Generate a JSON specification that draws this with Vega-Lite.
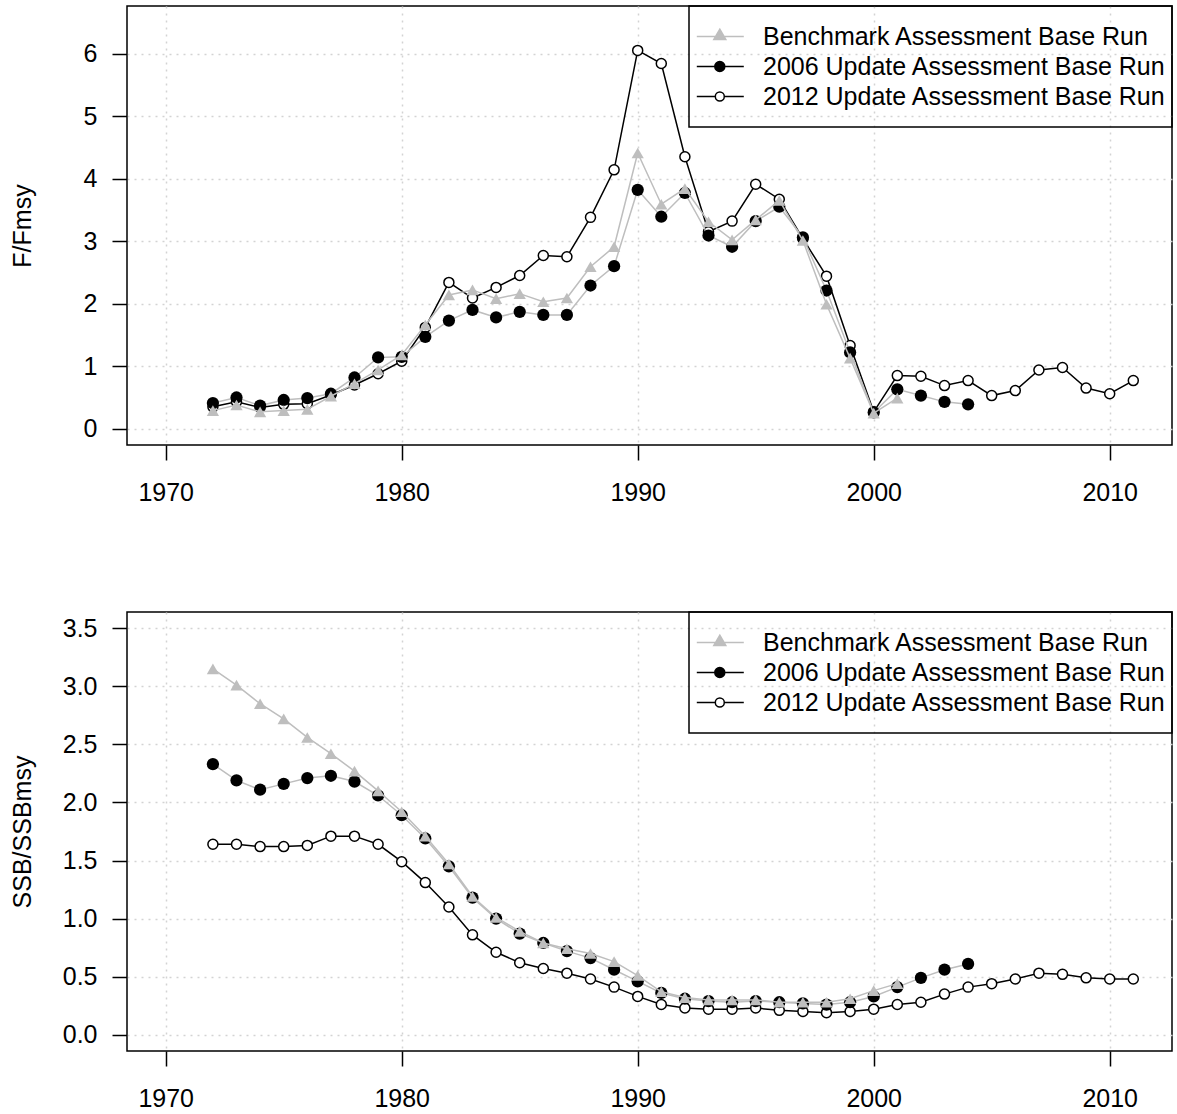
{
  "$schema": "https://vega.github.io/schema/vega-lite/v6.json",
  "background": "white",
  "padding": {"left": 9, "top": 4, "right": 5, "bottom": 5},
  "bounds": "flush",
  "spacing": 167,
  "config": {
    "font": "Liberation Sans",
    "view": {"stroke": "black", "strokeWidth": 1.5},
    "axis": {"domain": false, "grid": true, "gridColor": "#D3D3D3", "gridDash": [2, 5], "gridWidth": 1.5, "tickColor": "black", "tickSize": 15, "tickWidth": 1.5, "labelFont": "Liberation Sans", "labelFontSize": 25, "labelColor": "black", "titleFont": "Liberation Sans", "titleFontSize": 25, "titleFontWeight": "normal", "titleColor": "black", "labelOverlap": false, "labelFlush": false},
    "axisX": {"labelPadding": 20},
    "axisY": {"labelPadding": 15, "minExtent": 60, "maxExtent": 60, "titlePadding": 32},
    "legend": {"titleFontSize": 8, "titlePadding": 5, "orient": "top-right", "offset": 0, "padding": 5, "strokeColor": "black", "strokeWidth": 1.5, "symbolSize": 400, "symbolStrokeWidth": 1.5, "symbolOpacity": 1, "labelFontSize": 25, "labelFont": "Liberation Sans", "labelColor": "black", "labelOffset": 44, "labelLimit": 0, "rowPadding": 4}
  },
  "resolve": {"scale": {"shape": "independent", "fill": "independent", "stroke": "independent"}, "legend": {"shape": "independent", "fill": "independent", "stroke": "independent"}},
  "datasets": {
    "f": [
      {"year": 1972, "series": "bench", "value": 0.29}, {"year": 1973, "series": "bench", "value": 0.38}, {"year": 1974, "series": "bench", "value": 0.27}, {"year": 1975, "series": "bench", "value": 0.29}, {"year": 1976, "series": "bench", "value": 0.31}, {"year": 1977, "series": "bench", "value": 0.52}, {"year": 1978, "series": "bench", "value": 0.72}, {"year": 1979, "series": "bench", "value": 0.94}, {"year": 1980, "series": "bench", "value": 1.18}, {"year": 1981, "series": "bench", "value": 1.66},
      {"year": 1982, "series": "bench", "value": 2.14}, {"year": 1983, "series": "bench", "value": 2.22}, {"year": 1984, "series": "bench", "value": 2.08}, {"year": 1985, "series": "bench", "value": 2.16}, {"year": 1986, "series": "bench", "value": 2.03}, {"year": 1987, "series": "bench", "value": 2.09}, {"year": 1988, "series": "bench", "value": 2.59}, {"year": 1989, "series": "bench", "value": 2.91}, {"year": 1990, "series": "bench", "value": 4.41}, {"year": 1991, "series": "bench", "value": 3.59},
      {"year": 1992, "series": "bench", "value": 3.84}, {"year": 1993, "series": "bench", "value": 3.31}, {"year": 1994, "series": "bench", "value": 3.02}, {"year": 1995, "series": "bench", "value": 3.34}, {"year": 1996, "series": "bench", "value": 3.65}, {"year": 1997, "series": "bench", "value": 3.01}, {"year": 1998, "series": "bench", "value": 1.99}, {"year": 1999, "series": "bench", "value": 1.13}, {"year": 2000, "series": "bench", "value": 0.25}, {"year": 2001, "series": "bench", "value": 0.49},
      {"year": 1972, "series": "u2006", "value": 0.41}, {"year": 1973, "series": "u2006", "value": 0.50}, {"year": 1974, "series": "u2006", "value": 0.37}, {"year": 1975, "series": "u2006", "value": 0.46}, {"year": 1976, "series": "u2006", "value": 0.49}, {"year": 1977, "series": "u2006", "value": 0.56}, {"year": 1978, "series": "u2006", "value": 0.82}, {"year": 1979, "series": "u2006", "value": 1.14}, {"year": 1980, "series": "u2006", "value": 1.15}, {"year": 1981, "series": "u2006", "value": 1.47},
      {"year": 1982, "series": "u2006", "value": 1.73}, {"year": 1983, "series": "u2006", "value": 1.90}, {"year": 1984, "series": "u2006", "value": 1.78}, {"year": 1985, "series": "u2006", "value": 1.87}, {"year": 1986, "series": "u2006", "value": 1.82}, {"year": 1987, "series": "u2006", "value": 1.82}, {"year": 1988, "series": "u2006", "value": 2.29}, {"year": 1989, "series": "u2006", "value": 2.60}, {"year": 1990, "series": "u2006", "value": 3.82}, {"year": 1991, "series": "u2006", "value": 3.39},
      {"year": 1992, "series": "u2006", "value": 3.77}, {"year": 1993, "series": "u2006", "value": 3.09}, {"year": 1994, "series": "u2006", "value": 2.91}, {"year": 1995, "series": "u2006", "value": 3.32}, {"year": 1996, "series": "u2006", "value": 3.55}, {"year": 1997, "series": "u2006", "value": 3.06}, {"year": 1998, "series": "u2006", "value": 2.21}, {"year": 1999, "series": "u2006", "value": 1.22}, {"year": 2000, "series": "u2006", "value": 0.26}, {"year": 2001, "series": "u2006", "value": 0.63},
      {"year": 2002, "series": "u2006", "value": 0.53}, {"year": 2003, "series": "u2006", "value": 0.43}, {"year": 2004, "series": "u2006", "value": 0.39},
      {"year": 1972, "series": "u2012", "value": 0.35}, {"year": 1973, "series": "u2012", "value": 0.43}, {"year": 1974, "series": "u2012", "value": 0.34}, {"year": 1975, "series": "u2012", "value": 0.39}, {"year": 1976, "series": "u2012", "value": 0.40}, {"year": 1977, "series": "u2012", "value": 0.54}, {"year": 1978, "series": "u2012", "value": 0.70}, {"year": 1979, "series": "u2012", "value": 0.88}, {"year": 1980, "series": "u2012", "value": 1.08}, {"year": 1981, "series": "u2012", "value": 1.62},
      {"year": 1982, "series": "u2012", "value": 2.34}, {"year": 1983, "series": "u2012", "value": 2.09}, {"year": 1984, "series": "u2012", "value": 2.26}, {"year": 1985, "series": "u2012", "value": 2.45}, {"year": 1986, "series": "u2012", "value": 2.77}, {"year": 1987, "series": "u2012", "value": 2.75}, {"year": 1988, "series": "u2012", "value": 3.38}, {"year": 1989, "series": "u2012", "value": 4.14}, {"year": 1990, "series": "u2012", "value": 6.05}, {"year": 1991, "series": "u2012", "value": 5.84},
      {"year": 1992, "series": "u2012", "value": 4.35}, {"year": 1993, "series": "u2012", "value": 3.15}, {"year": 1994, "series": "u2012", "value": 3.32}, {"year": 1995, "series": "u2012", "value": 3.91}, {"year": 1996, "series": "u2012", "value": 3.67}, {"year": 1997, "series": "u2012", "value": 3.04}, {"year": 1998, "series": "u2012", "value": 2.44}, {"year": 1999, "series": "u2012", "value": 1.33}, {"year": 2000, "series": "u2012", "value": 0.27}, {"year": 2001, "series": "u2012", "value": 0.85},
      {"year": 2002, "series": "u2012", "value": 0.84}, {"year": 2003, "series": "u2012", "value": 0.69}, {"year": 2004, "series": "u2012", "value": 0.77}, {"year": 2005, "series": "u2012", "value": 0.53}, {"year": 2006, "series": "u2012", "value": 0.61}, {"year": 2007, "series": "u2012", "value": 0.94}, {"year": 2008, "series": "u2012", "value": 0.98}, {"year": 2009, "series": "u2012", "value": 0.65}, {"year": 2010, "series": "u2012", "value": 0.56}, {"year": 2011, "series": "u2012", "value": 0.77}
    ],
    "ssb": [
      {"year": 1972, "series": "bench", "value": 3.15}, {"year": 1973, "series": "bench", "value": 3.01}, {"year": 1974, "series": "bench", "value": 2.85}, {"year": 1975, "series": "bench", "value": 2.72}, {"year": 1976, "series": "bench", "value": 2.56}, {"year": 1977, "series": "bench", "value": 2.42}, {"year": 1978, "series": "bench", "value": 2.27}, {"year": 1979, "series": "bench", "value": 2.10}, {"year": 1980, "series": "bench", "value": 1.92}, {"year": 1981, "series": "bench", "value": 1.71},
      {"year": 1982, "series": "bench", "value": 1.47}, {"year": 1983, "series": "bench", "value": 1.19}, {"year": 1984, "series": "bench", "value": 1.01}, {"year": 1985, "series": "bench", "value": 0.89}, {"year": 1986, "series": "bench", "value": 0.79}, {"year": 1987, "series": "bench", "value": 0.74}, {"year": 1988, "series": "bench", "value": 0.70}, {"year": 1989, "series": "bench", "value": 0.63}, {"year": 1990, "series": "bench", "value": 0.51}, {"year": 1991, "series": "bench", "value": 0.37},
      {"year": 1992, "series": "bench", "value": 0.32}, {"year": 1993, "series": "bench", "value": 0.30}, {"year": 1994, "series": "bench", "value": 0.30}, {"year": 1995, "series": "bench", "value": 0.30}, {"year": 1996, "series": "bench", "value": 0.28}, {"year": 1997, "series": "bench", "value": 0.28}, {"year": 1998, "series": "bench", "value": 0.28}, {"year": 1999, "series": "bench", "value": 0.31}, {"year": 2000, "series": "bench", "value": 0.38}, {"year": 2001, "series": "bench", "value": 0.44},
      {"year": 1972, "series": "u2006", "value": 2.33}, {"year": 1973, "series": "u2006", "value": 2.19}, {"year": 1974, "series": "u2006", "value": 2.11}, {"year": 1975, "series": "u2006", "value": 2.16}, {"year": 1976, "series": "u2006", "value": 2.21}, {"year": 1977, "series": "u2006", "value": 2.23}, {"year": 1978, "series": "u2006", "value": 2.18}, {"year": 1979, "series": "u2006", "value": 2.06}, {"year": 1980, "series": "u2006", "value": 1.89}, {"year": 1981, "series": "u2006", "value": 1.69},
      {"year": 1982, "series": "u2006", "value": 1.45}, {"year": 1983, "series": "u2006", "value": 1.18}, {"year": 1984, "series": "u2006", "value": 1.00}, {"year": 1985, "series": "u2006", "value": 0.87}, {"year": 1986, "series": "u2006", "value": 0.79}, {"year": 1987, "series": "u2006", "value": 0.72}, {"year": 1988, "series": "u2006", "value": 0.66}, {"year": 1989, "series": "u2006", "value": 0.56}, {"year": 1990, "series": "u2006", "value": 0.46}, {"year": 1991, "series": "u2006", "value": 0.36},
      {"year": 1992, "series": "u2006", "value": 0.31}, {"year": 1993, "series": "u2006", "value": 0.29}, {"year": 1994, "series": "u2006", "value": 0.28}, {"year": 1995, "series": "u2006", "value": 0.29}, {"year": 1996, "series": "u2006", "value": 0.28}, {"year": 1997, "series": "u2006", "value": 0.27}, {"year": 1998, "series": "u2006", "value": 0.26}, {"year": 1999, "series": "u2006", "value": 0.28}, {"year": 2000, "series": "u2006", "value": 0.33}, {"year": 2001, "series": "u2006", "value": 0.41},
      {"year": 2002, "series": "u2006", "value": 0.49}, {"year": 2003, "series": "u2006", "value": 0.56}, {"year": 2004, "series": "u2006", "value": 0.61},
      {"year": 1972, "series": "u2012", "value": 1.64}, {"year": 1973, "series": "u2012", "value": 1.64}, {"year": 1974, "series": "u2012", "value": 1.62}, {"year": 1975, "series": "u2012", "value": 1.62}, {"year": 1976, "series": "u2012", "value": 1.63}, {"year": 1977, "series": "u2012", "value": 1.71}, {"year": 1978, "series": "u2012", "value": 1.71}, {"year": 1979, "series": "u2012", "value": 1.64}, {"year": 1980, "series": "u2012", "value": 1.49}, {"year": 1981, "series": "u2012", "value": 1.31},
      {"year": 1982, "series": "u2012", "value": 1.10}, {"year": 1983, "series": "u2012", "value": 0.86}, {"year": 1984, "series": "u2012", "value": 0.71}, {"year": 1985, "series": "u2012", "value": 0.62}, {"year": 1986, "series": "u2012", "value": 0.57}, {"year": 1987, "series": "u2012", "value": 0.53}, {"year": 1988, "series": "u2012", "value": 0.48}, {"year": 1989, "series": "u2012", "value": 0.41}, {"year": 1990, "series": "u2012", "value": 0.33}, {"year": 1991, "series": "u2012", "value": 0.26},
      {"year": 1992, "series": "u2012", "value": 0.23}, {"year": 1993, "series": "u2012", "value": 0.22}, {"year": 1994, "series": "u2012", "value": 0.22}, {"year": 1995, "series": "u2012", "value": 0.23}, {"year": 1996, "series": "u2012", "value": 0.21}, {"year": 1997, "series": "u2012", "value": 0.20}, {"year": 1998, "series": "u2012", "value": 0.19}, {"year": 1999, "series": "u2012", "value": 0.20}, {"year": 2000, "series": "u2012", "value": 0.22}, {"year": 2001, "series": "u2012", "value": 0.26},
      {"year": 2002, "series": "u2012", "value": 0.28}, {"year": 2003, "series": "u2012", "value": 0.35}, {"year": 2004, "series": "u2012", "value": 0.41}, {"year": 2005, "series": "u2012", "value": 0.44}, {"year": 2006, "series": "u2012", "value": 0.48}, {"year": 2007, "series": "u2012", "value": 0.53}, {"year": 2008, "series": "u2012", "value": 0.52}, {"year": 2009, "series": "u2012", "value": 0.49}, {"year": 2010, "series": "u2012", "value": 0.48}, {"year": 2011, "series": "u2012", "value": 0.48}
    ]
  },
  "vconcat": [
    {
      "width": 1045,
      "height": 439,
      "data": {"name": "f"},
      "encoding": {
        "x": {"field": "year", "type": "quantitative", "scale": {"domain": [1968.36, 2012.64], "nice": false, "zero": false}, "axis": {"values": [1970, 1980, 1990, 2000, 2010], "format": "d", "title": null}},
        "y": {"field": "value", "type": "quantitative", "scale": {"domain": [-0.26, 6.76], "nice": false, "zero": false}, "axis": {"values": [0, 1, 2, 3, 4, 5, 6], "format": "d", "title": "F/Fmsy"}}
      },
      "layer": [
        {"transform": [{"filter": "datum.series === 'u2012'"}], "mark": {"type": "line", "color": "black", "strokeWidth": 1.5}, "encoding": {}},
        {"transform": [{"filter": "datum.series === 'u2012'"}], "mark": {"type": "point", "shape": "circle", "filled": false, "fill": "white", "fillOpacity": 1, "stroke": "black", "strokeWidth": 1.5, "size": 100, "opacity": 1}, "encoding": {}},
        {"transform": [{"filter": "datum.series === 'u2006'"}], "mark": {"type": "line", "color": "#BEBEBE", "strokeWidth": 1.5}, "encoding": {}},
        {"transform": [{"filter": "datum.series === 'u2006'"}], "mark": {"type": "circle", "color": "black", "size": 150, "opacity": 1}, "encoding": {}},
        {"transform": [{"filter": "datum.series === 'bench'"}], "mark": {"type": "line", "color": "#BEBEBE", "strokeWidth": 1.5}, "encoding": {}},
        {"transform": [{"filter": "datum.series === 'bench'"}], "mark": {"type": "point", "shape": "triangle-up", "filled": true, "color": "#BEBEBE", "size": 150, "opacity": 1}, "encoding": {}},
        {"transform": [{"filter": "false"}], "mark": {"type": "point", "filled": true, "opacity": 1, "strokeWidth": 1.5, "size": 400}, "encoding": {
          "shape": {"field": "series", "type": "nominal", "scale": {"domain": ["bench", "u2006", "u2012"], "range": ["M-0.97,0L3.73,0M1.33,-0.73L1.93,0.31L0.73,0.31Z", "M-0.97,0L3.73,0M1.83,0A0.5,0.5,0,1,1,0.83,0A0.5,0.5,0,1,1,1.83,0Z", "M-0.97,0L0.88,0M1.78,0L3.73,0M1.78,0A0.45,0.45,0,1,1,0.88,0A0.45,0.45,0,1,1,1.78,0ZM0,2.2L0,2.2"]},
            "legend": {"title": " ", "labelExpr": "datum.value === 'bench' ? 'Benchmark Assessment Base Run' : datum.value === 'u2006' ? '2006 Update Assessment Base Run' : '2012 Update Assessment Base Run'"}},
          "fill": {"field": "series", "type": "nominal", "scale": {"domain": ["bench", "u2006", "u2012"], "range": ["#BEBEBE", "black", "transparent"]},
            "legend": {"title": " ", "labelExpr": "datum.value === 'bench' ? 'Benchmark Assessment Base Run' : datum.value === 'u2006' ? '2006 Update Assessment Base Run' : '2012 Update Assessment Base Run'"}},
          "stroke": {"field": "series", "type": "nominal", "scale": {"domain": ["bench", "u2006", "u2012"], "range": ["#BEBEBE", "black", "black"]},
            "legend": {"title": " ", "labelExpr": "datum.value === 'bench' ? 'Benchmark Assessment Base Run' : datum.value === 'u2006' ? '2006 Update Assessment Base Run' : '2012 Update Assessment Base Run'"}}
        }}
      ]
    },
    {
      "width": 1045,
      "height": 439,
      "data": {"name": "ssb"},
      "encoding": {
        "x": {"field": "year", "type": "quantitative", "scale": {"domain": [1968.36, 2012.64], "nice": false, "zero": false}, "axis": {"values": [1970, 1980, 1990, 2000, 2010], "format": "d", "title": null}},
        "y": {"field": "value", "type": "quantitative", "scale": {"domain": [-0.14, 3.64], "nice": false, "zero": false}, "axis": {"values": [0, 0.5, 1, 1.5, 2, 2.5, 3, 3.5], "format": ".1f", "title": "SSB/SSBmsy"}}
      },
      "layer": [
        {"transform": [{"filter": "datum.series === 'u2012'"}], "mark": {"type": "line", "color": "black", "strokeWidth": 1.5}, "encoding": {}},
        {"transform": [{"filter": "datum.series === 'u2012'"}], "mark": {"type": "point", "shape": "circle", "filled": false, "fill": "white", "fillOpacity": 1, "stroke": "black", "strokeWidth": 1.5, "size": 100, "opacity": 1}, "encoding": {}},
        {"transform": [{"filter": "datum.series === 'u2006'"}], "mark": {"type": "line", "color": "#BEBEBE", "strokeWidth": 1.5}, "encoding": {}},
        {"transform": [{"filter": "datum.series === 'u2006'"}], "mark": {"type": "circle", "color": "black", "size": 150, "opacity": 1}, "encoding": {}},
        {"transform": [{"filter": "datum.series === 'bench'"}], "mark": {"type": "line", "color": "#BEBEBE", "strokeWidth": 1.5}, "encoding": {}},
        {"transform": [{"filter": "datum.series === 'bench'"}], "mark": {"type": "point", "shape": "triangle-up", "filled": true, "color": "#BEBEBE", "size": 150, "opacity": 1}, "encoding": {}},
        {"transform": [{"filter": "false"}], "mark": {"type": "point", "filled": true, "opacity": 1, "strokeWidth": 1.5, "size": 400}, "encoding": {
          "shape": {"field": "series", "type": "nominal", "scale": {"domain": ["bench", "u2006", "u2012"], "range": ["M-0.97,0L3.73,0M1.33,-0.73L1.93,0.31L0.73,0.31Z", "M-0.97,0L3.73,0M1.83,0A0.5,0.5,0,1,1,0.83,0A0.5,0.5,0,1,1,1.83,0Z", "M-0.97,0L0.88,0M1.78,0L3.73,0M1.78,0A0.45,0.45,0,1,1,0.88,0A0.45,0.45,0,1,1,1.78,0ZM0,2.2L0,2.2"]},
            "legend": {"title": " ", "labelExpr": "datum.value === 'bench' ? 'Benchmark Assessment Base Run' : datum.value === 'u2006' ? '2006 Update Assessment Base Run' : '2012 Update Assessment Base Run'"}},
          "fill": {"field": "series", "type": "nominal", "scale": {"domain": ["bench", "u2006", "u2012"], "range": ["#BEBEBE", "black", "transparent"]},
            "legend": {"title": " ", "labelExpr": "datum.value === 'bench' ? 'Benchmark Assessment Base Run' : datum.value === 'u2006' ? '2006 Update Assessment Base Run' : '2012 Update Assessment Base Run'"}},
          "stroke": {"field": "series", "type": "nominal", "scale": {"domain": ["bench", "u2006", "u2012"], "range": ["#BEBEBE", "black", "black"]},
            "legend": {"title": " ", "labelExpr": "datum.value === 'bench' ? 'Benchmark Assessment Base Run' : datum.value === 'u2006' ? '2006 Update Assessment Base Run' : '2012 Update Assessment Base Run'"}}
        }}
      ]
    }
  ]
}
